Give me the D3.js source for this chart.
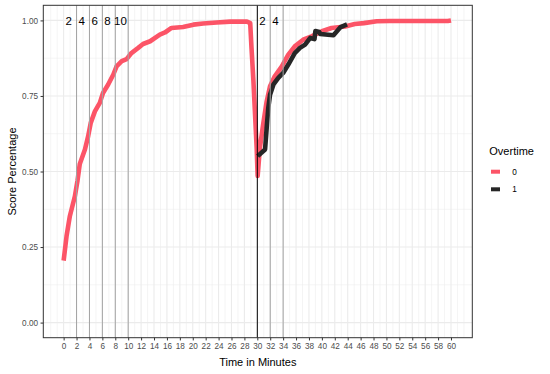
<!DOCTYPE html>
<html><head><meta charset="utf-8">
<script src="https://cdn.jsdelivr.net/npm/d3@7"></script>
<style>body{margin:0;background:#fff}svg{display:block}text{font-family:"Liberation Sans",Arial,sans-serif}</style>
</head><body>
<svg id="c" width="550" height="374"></svg>
<script>
// Series "0" (no overtime)
const redT = [0, 0.45, 0.96, 1.74, 2.15, 2.5, 3.3, 3.8, 4.2, 4.84, 5.6, 6.1, 6.9, 7.7, 8.2, 9.0, 9.75, 10.5, 11.55, 12.3, 13.4, 14.9, 15.7, 16.7, 18.5, 20.1, 21.6, 23.7, 25.8, 28.4, 28.9, 29.1, 29.4, 29.65, 29.9, 30.05, 30.4, 30.9, 31.45, 31.97, 32.7, 33.8, 34.8, 35.8, 37.1, 38.4, 40.0, 41.5, 43.6, 45.1, 46.5, 48.5, 50.5, 55, 59.5, 60];
const redV = [0.205, 0.286, 0.352, 0.418, 0.47, 0.525, 0.573, 0.617, 0.661, 0.699, 0.727, 0.760, 0.788, 0.821, 0.848, 0.865, 0.872, 0.892, 0.909, 0.922, 0.931, 0.953, 0.960, 0.975, 0.978, 0.986, 0.990, 0.993, 0.996, 0.996, 0.991, 0.909, 0.798, 0.688, 0.578, 0.485, 0.578, 0.655, 0.732, 0.782, 0.815, 0.848, 0.887, 0.914, 0.936, 0.947, 0.964, 0.975, 0.980, 0.988, 0.991, 0.997, 0.998, 0.998, 0.998, 1.0];
// Series "1" (overtime)
const blackT = [30.06, 31.2, 31.45, 31.7, 31.97, 32.5, 33.25, 34.0, 34.8, 35.8, 36.6, 37.4, 38.2, 38.85, 39.0, 39.6, 39.75, 41.8, 42.9, 43.9];
const blackV = [0.551, 0.573, 0.644, 0.710, 0.754, 0.788, 0.810, 0.826, 0.854, 0.892, 0.909, 0.920, 0.942, 0.938, 0.965, 0.962, 0.955, 0.951, 0.978, 0.987];
const seriesNames = ["0", "1"];
const seriesColors = ["#fc5467", "#262626"];
const xTicks = d3.range(0, 61, 2);
const yTicks = [0, 0.25, 0.5, 0.75, 1.0];
const greyLines = [2, 4, 6, 8, 10, 32, 34];
const blackLines = [30];
const topLabels = [{t: 2, s: "2"}, {t: 4, s: "4"}, {t: 6, s: "6"}, {t: 8, s: "8"}, {t: 10, s: "10"}, {t: 32, s: "2"}, {t: 34, s: "4"}];

const L = 43.3, R = 472.3, T = 5.3, B = 337.7;
const svg = d3.select("#c");
const x = d3.scaleLinear().domain([-3.15, 63.3]).range([L, R]);
const y = d3.scaleLinear().domain([-0.05, 1.05]).range([B, T]);

const g = svg.append("g");
// minor grid
const minorX = d3.range(-2, 63, 1).filter(v => !(v >= 0 && v <= 60 && v % 2 === 0));
const minorY = [0.125, 0.375, 0.625, 0.875];
g.selectAll(".mx").data(minorX).enter().append("line")
  .attr("x1", d => x(d)).attr("x2", d => x(d)).attr("y1", T).attr("y2", B)
  .attr("stroke", "#ebebeb").attr("stroke-width", 0.55);
g.selectAll(".my").data(minorY).enter().append("line")
  .attr("y1", d => y(d)).attr("y2", d => y(d)).attr("x1", L).attr("x2", R)
  .attr("stroke", "#ebebeb").attr("stroke-width", 0.55);
g.selectAll(".gx").data(xTicks).enter().append("line")
  .attr("x1", d => x(d)).attr("x2", d => x(d)).attr("y1", T).attr("y2", B)
  .attr("stroke", "#ebebeb").attr("stroke-width", 1.1);
g.selectAll(".gy").data(yTicks).enter().append("line")
  .attr("y1", d => y(d)).attr("y2", d => y(d)).attr("x1", L).attr("x2", R)
  .attr("stroke", "#ebebeb").attr("stroke-width", 1.1);

// data lines
const line = d3.line().x(d => x(d[0])).y(d => y(d[1]));
const series = [d3.zip(redT, redV), d3.zip(blackT, blackV)];
series.forEach((s, i) => {
  g.append("path").attr("d", line(s)).attr("fill", "none")
    .attr("stroke", seriesColors[i]).attr("stroke-width", 4.6)
    .attr("stroke-linejoin", "round").attr("stroke-linecap", "butt");
});

// vertical reference lines
g.selectAll(".vg").data(greyLines).enter().append("line")
  .attr("x1", d => x(d)).attr("x2", d => x(d)).attr("y1", T).attr("y2", B)
  .attr("stroke", "#a3a3a3").attr("stroke-width", 1);
g.selectAll(".vb").data(blackLines).enter().append("line")
  .attr("x1", d => x(d)).attr("x2", d => x(d)).attr("y1", T).attr("y2", B)
  .attr("stroke", "#000").attr("stroke-width", 1);

// labels
g.selectAll(".tl").data(topLabels).enter().append("text")
  .attr("x", d => x(d.t - 1.2)).attr("y", y(1.0)).attr("dy", "0.36em")
  .attr("text-anchor", "middle").attr("font-size", 11.5).attr("fill", "#000")
  .text(d => d.s);

// panel border
svg.append("rect").attr("x", L).attr("y", T).attr("width", R - L).attr("height", B - T)
  .attr("fill", "none").attr("stroke", "#333").attr("stroke-width", 1);

// axes
const xa = svg.append("g").attr("transform", `translate(0,${B})`)
  .call(d3.axisBottom(x).tickValues(xTicks).tickSize(2.75).tickPadding(2.5).tickFormat(d3.format("d")));
const ya = svg.append("g").attr("transform", `translate(${L},0)`)
  .call(d3.axisLeft(y).tickValues(yTicks).tickSize(2.75).tickPadding(2.5).tickFormat(d3.format(".2f")));
[xa, ya].forEach(a => {
  a.select(".domain").remove();
  a.selectAll(".tick line").attr("stroke", "#333").attr("stroke-width", 1);
  a.selectAll(".tick text").attr("fill", "#4d4d4d").attr("font-size", 8.2)
    .attr("font-family", '"Liberation Sans",Arial,sans-serif');
});

// axis titles
svg.append("text").attr("x", (L + R) / 2).attr("y", 366).attr("text-anchor", "middle")
  .attr("font-size", 11).text("Time in Minutes");
svg.append("text").attr("transform", `translate(15.5,${(T + B) / 2}) rotate(-90)`)
  .attr("text-anchor", "middle").attr("font-size", 11).text("Score Percentage");

// legend
const lg = svg.append("g");
lg.append("text").attr("x", 489.3).attr("y", 155.3).attr("font-size", 11).text("Overtime");
const keyY = [171.7, 189.3];
seriesNames.forEach((n, i) => {
  lg.append("line").attr("x1", 491).attr("x2", 500).attr("y1", keyY[i]).attr("y2", keyY[i])
    .attr("stroke", seriesColors[i]).attr("stroke-width", 4);
  lg.append("text").attr("x", 514.5).attr("y", keyY[i]).attr("dy", "0.35em")
    .attr("text-anchor", "middle").attr("font-size", 8.2).text(n);
});
</script>
</body></html>
